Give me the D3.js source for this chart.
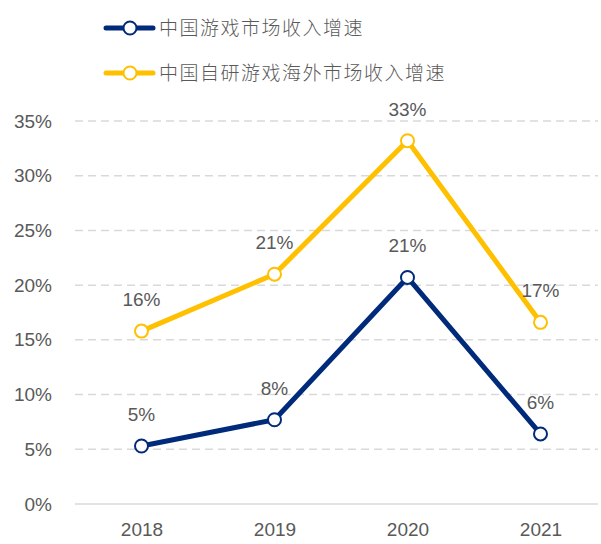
<!DOCTYPE html>
<html lang="zh">
<head>
<meta charset="UTF-8" />
<title>中国游戏市场收入增速</title>
<script src="https://cdn.jsdelivr.net/npm/d3@7/dist/d3.min.js"></script>
<style>
  body { margin: 0; background: #fff; }
  text { font-family: "Liberation Sans", Arial, sans-serif; fill: #595959; }
</style>
</head>
<body>
<script>
var years = ["2018", "2019", "2020", "2021"];
var domestic = [5.3, 7.7, 20.7, 6.4];
var overseas = [15.8, 21.0, 33.2, 16.6];
var domesticLabels = ["5%", "8%", "21%", "6%"];
var overseasLabels = ["16%", "21%", "33%", "17%"];
var yTicks = [0, 5, 10, 15, 20, 25, 30, 35];
var seriesNames = ["中国游戏市场收入增速", "中国自研游戏海外市场收入增速"];
var colors = ["#002A7A", "#FFC000"];

var width = 601, height = 544;

var svg = d3.select("body").append("svg")
  .attr("width", width)
  .attr("height", height);

var x = d3.scalePoint().domain(years).range([75, 607]).padding(0.5);
var y = d3.scaleLinear().domain([0, 35]).range([504, 121]);

// gridlines
svg.append("g").selectAll("line")
  .data(yTicks)
  .enter().append("line")
  .attr("x1", 75).attr("x2", 598)
  .attr("y1", function(d) { return y(d); })
  .attr("y2", function(d) { return y(d); })
  .attr("stroke", "#D9D9D9")
  .attr("stroke-width", 1.5)
  .attr("stroke-dasharray", function(d) { return d === 0 ? null : "8,5"; });

// y axis labels
var yAxis = d3.axisLeft(y).tickValues(yTicks).tickSize(0).tickPadding(0)
  .tickFormat(function(d) { return d + "%"; });
var ya = svg.append("g").attr("transform", "translate(52,0)").call(yAxis);
ya.select(".domain").remove();
ya.selectAll("text").attr("fill", "#595959").style("font-size", "19px")
  .style("font-family", "Liberation Sans, Arial, sans-serif");

// x axis labels
var xAxis = d3.axisBottom(x).tickSize(0).tickPadding(0);
var xa = svg.append("g").attr("transform", "translate(0,522)").call(xAxis);
xa.select(".domain").remove();
xa.selectAll("text").attr("fill", "#595959").style("font-size", "19px")
  .style("font-family", "Liberation Sans, Arial, sans-serif");

var line = d3.line()
  .x(function(d, i) { return x(years[i]); })
  .y(function(d) { return y(d); });

var allSeries = [domestic, overseas];
var allLabels = [domesticLabels, overseasLabels];

// draw overseas first so the blue line lies on top where needed
[1, 0].forEach(function(s) {
  var g = svg.append("g");
  g.append("path")
    .datum(allSeries[s])
    .attr("d", line)
    .attr("fill", "none")
    .attr("stroke", colors[s])
    .attr("stroke-width", 5)
    .attr("stroke-linejoin", "round");

  g.selectAll("circle")
    .data(allSeries[s])
    .enter().append("circle")
    .attr("cx", function(d, i) { return x(years[i]); })
    .attr("cy", function(d) { return y(d); })
    .attr("r", 6.5)
    .attr("fill", "#fff")
    .attr("stroke", colors[s])
    .attr("stroke-width", 2);

  g.selectAll("text")
    .data(allSeries[s])
    .enter().append("text")
    .attr("x", function(d, i) { return x(years[i]); })
    .attr("y", function(d) { return y(d) - 25; })
    .attr("text-anchor", "middle")
    .style("font-size", "19px")
    .text(function(d, i) { return allLabels[s][i]; });
});

// legend
var legend = svg.append("g");
var legendY = [28, 73];
seriesNames.forEach(function(name, i) {
  var lg = legend.append("g").attr("transform", "translate(0," + legendY[i] + ")");
  lg.append("line")
    .attr("x1", 106).attr("x2", 153)
    .attr("stroke", colors[i])
    .attr("stroke-width", 5)
    .attr("stroke-linecap", "round");
  lg.append("circle")
    .attr("cx", 130).attr("r", 6.5)
    .attr("fill", "#fff")
    .attr("stroke", colors[i])
    .attr("stroke-width", 2);
  lg.append("text")
    .attr("x", 159)
    .attr("dy", "0.35em")
    .style("font-family", "'Noto Sans CJK SC', sans-serif")
    .style("font-size", "19px")
    .style("font-weight", "300")
    .style("letter-spacing", "1.5px")
    .text(name);
});
</script>
</body>
</html>
